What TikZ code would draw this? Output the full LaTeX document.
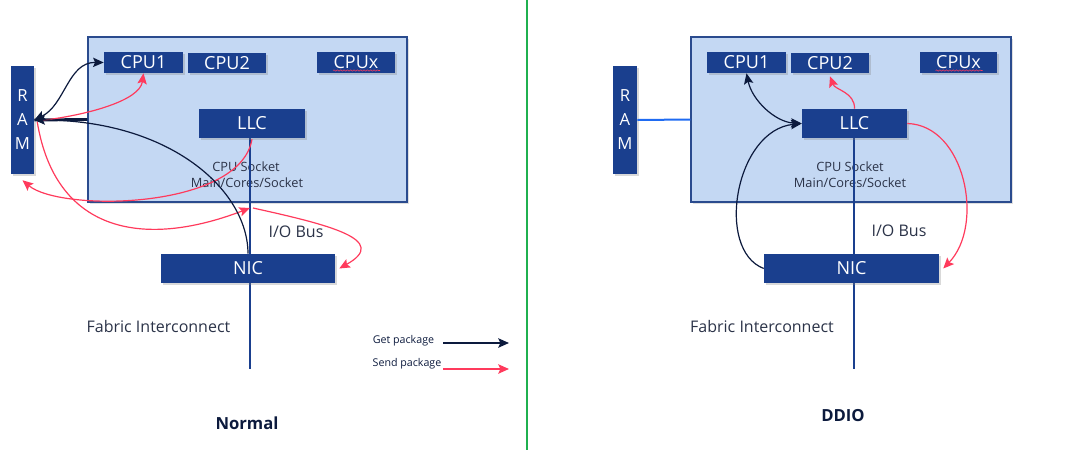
\documentclass[tikz,border=0pt]{standalone}
\usepackage{fontspec}
\setmainfont{Open Sans}
\usetikzlibrary{arrows.meta,shadows,calc,decorations.pathmorphing}
\definecolor{boxblue}{HTML}{1A3F8E}
\definecolor{sockfill}{HTML}{C4D8F3}
\definecolor{sockline}{HTML}{2A4B8E}
\definecolor{getc}{HTML}{0C1A3D}
\definecolor{sendc}{HTML}{FF3A5C}
\definecolor{linkblue}{HTML}{1F6BF2}
\definecolor{divgreen}{HTML}{1FB04F}
\definecolor{txtgray}{HTML}{2B3348}
\pgfdeclarelayer{bg}
\pgfdeclarelayer{mid}
\pgfsetlayers{bg,mid,main}
\begin{document}
\begin{tikzpicture}[x=0.75pt,y=-0.75pt,
  sz/.style 2 args={minimum width=#1*0.75pt,minimum height=#2*0.75pt},
  unit/.style={fill=boxblue,text=white,inner sep=0pt,font=\fontsize{13.5}{16}\selectfont,
     drop shadow={shadow xshift=1.5pt,shadow yshift=-1.5pt,opacity=0.3}},
  ramstyle/.style={unit,align=center,font=\fontsize{12.5}{18}\selectfont},
  socket/.style={fill=sockfill,draw=sockline,line width=1pt,inner sep=0pt,
     drop shadow={shadow xshift=1.5pt,shadow yshift=-1.5pt,opacity=0.25}},
  socktxt/.style={text=txtgray,font=\fontsize{9.6}{11}\selectfont,inner sep=0pt},
  lbl/.style={text=txtgray,font=\fontsize{12}{14}\selectfont,inner sep=0pt},
  legtxt/.style={text=getc,font=\fontsize{8}{10}\selectfont,inner sep=0pt},
  title/.style={text=getc,font=\fontsize{12.5}{15}\selectfont\bfseries,inner sep=0pt},
  bus/.style={draw=boxblue,line width=1.5pt},
  tip/.style={-{Stealth[length=8pt,width=7pt,inset=1.5pt]}},
  dtip/.style={{Stealth[length=8pt,width=7pt,inset=1.5pt]}-{Stealth[length=8pt,width=7pt,inset=1.5pt]}},
  getline/.style={draw=getc,line width=0.9pt},
  sendline/.style={draw=sendc,line width=0.9pt},
  squiggle/.style={draw=sendc,line width=0.4pt,decorate,decoration={snake,amplitude=0.5pt,segment length=2.5pt}}
]
\useasboundingbox (0,0) rectangle (1071,450);

% ---------- divider ----------
\coordinate (divtop) at (527,0);
\coordinate (divbot) at (527,450);
\draw[divgreen,line width=1.6pt] (divtop) -- (divbot);

% ================= LEFT: Normal =================
\begin{pgfonlayer}{bg}
\node[socket,sz={319}{165}] (sockL) at (247.5,119.5) {};
\node[socktxt] (sktL1) at (246,167) {CPU Socket};
\node[socktxt] (sktL2) at (247,183) {Main/Cores/Socket};
\end{pgfonlayer}

\node[ramstyle,sz={23}{108}] (ramL) at (22.5,120) {R\\A\\M};
\node[unit,sz={79}{21}] (cpu1L) at (143.5,62.5) {CPU1};
\node[unit,sz={78}{20}] (cpu2L) at (227,63) {CPU2};
\node[unit,sz={78}{21}] (cpuxL) at (356,62.5) {CPUx};
\node[unit,sz={106}{29}] (llcL) at (252,123.5) {LLC};
\node[unit,sz={174}{29}] (nicL) at (248,268.5) {NIC};
\draw[squiggle] ($(cpuxL.center)+(-23,8)$) -- ($(cpuxL.center)+(24,8)$);

\coordinate (fabL) at (250,369);
\coordinate (busptL) at (250,208);
\begin{pgfonlayer}{mid}
\draw[bus] (fabL |- llcL.south) -- (fabL);
\end{pgfonlayer}

\draw[draw=getc,line width=2.2pt] (ramL.east) -- (sockL.west);

\node[lbl] (iobL) at (296,232) {I/O Bus};
\node[lbl] (fabtL) at (158.5,326) {Fabric Interconnect};

% curves
\draw[sendline,tip] ($(ramL.east)+(3,1)$) .. controls (90,115) and (140,100) .. (cpu1L.south);
\draw[sendline,tip] ($(ramL.east)+(3,2)$) .. controls (55,230) and (140,250) .. (busptL);
\draw[sendline,tip] ($(llcL.south)+(0,1)$) .. controls (240,210) and (60,212) .. ($(ramL.south)+(0,6)$);
\draw[sendline,tip] ($(busptL)+(3,0)$) .. controls (330,225) and (390,240) .. ($(nicL.east)+(4,0)$);
\draw[getline,dtip] (ramL.east) .. controls (65,105) and (68,62) .. (cpu1L.west);
\draw[getline,tip] (nicL.north) .. controls (248,190) and (170,120) .. (ramL.east);

% legend
\node[legtxt] (getlbl) at (403.5,341) {Get package};
\node[legtxt] (sendlbl) at (407,364) {Send package};
\coordinate (getA) at (443,343);
\coordinate (getB) at (509,343);
\coordinate (sendA) at (443,369);
\coordinate (sendB) at (509,369);
\draw[getc,line width=1.5pt,tip] (getA) -- (getB);
\draw[sendc,line width=1.5pt,tip] (sendA) -- (sendB);

\node[title] (normal) at (247,423) {Normal};

% ================= RIGHT: DDIO =================
\begin{pgfonlayer}{bg}
\node[socket,sz={320}{165}] (sockR) at (851,119.5) {};
\node[socktxt] (sktR1) at (850,167) {CPU Socket};
\node[socktxt] (sktR2) at (850,183) {Main/Cores/Socket};
\end{pgfonlayer}

\node[ramstyle,sz={24}{108}] (ramR) at (625,120) {R\\A\\M};
\node[unit,sz={79}{21}] (cpu1R) at (746.5,62.5) {CPU1};
\node[unit,sz={78}{20}] (cpu2R) at (830,63) {CPU2};
\node[unit,sz={77}{21}] (cpuxR) at (958.5,62.5) {CPUx};
\node[unit,sz={105}{29}] (llcR) at (854.5,123.5) {LLC};
\node[unit,sz={175}{29}] (nicR) at (851.5,268.5) {NIC};
\draw[squiggle] ($(cpuxR.center)+(-23,8)$) -- ($(cpuxR.center)+(24,8)$);

\coordinate (fabR) at (854,369);
\begin{pgfonlayer}{mid}
\draw[bus] (fabR |- llcR.south) -- (fabR);
\end{pgfonlayer}

\draw[draw=linkblue,line width=1.5pt] (ramR.east) -- (sockR.west);

\node[lbl] (iobR) at (899,231) {I/O Bus};
\node[lbl] (fabtR) at (762,326) {Fabric Interconnect};

\draw[getline,dtip] (cpu1R.south) .. controls (752,100) and (775,122) .. (llcR.west);
\draw[getline,tip] (nicR.west) .. controls (715,250) and (735,130) .. (llcR.west);
\draw[sendline,tip] (llcR.north) .. controls (855,92) and (835,90) .. ($(cpu2R.south)+(0,3)$);
\draw[sendline,tip] (llcR.east) .. controls (965,125) and (985,225) .. ($(nicR.east)+(4,0)$);

\node[title] (ddio) at (843,416) {DDIO};
\end{tikzpicture}
\end{document}
